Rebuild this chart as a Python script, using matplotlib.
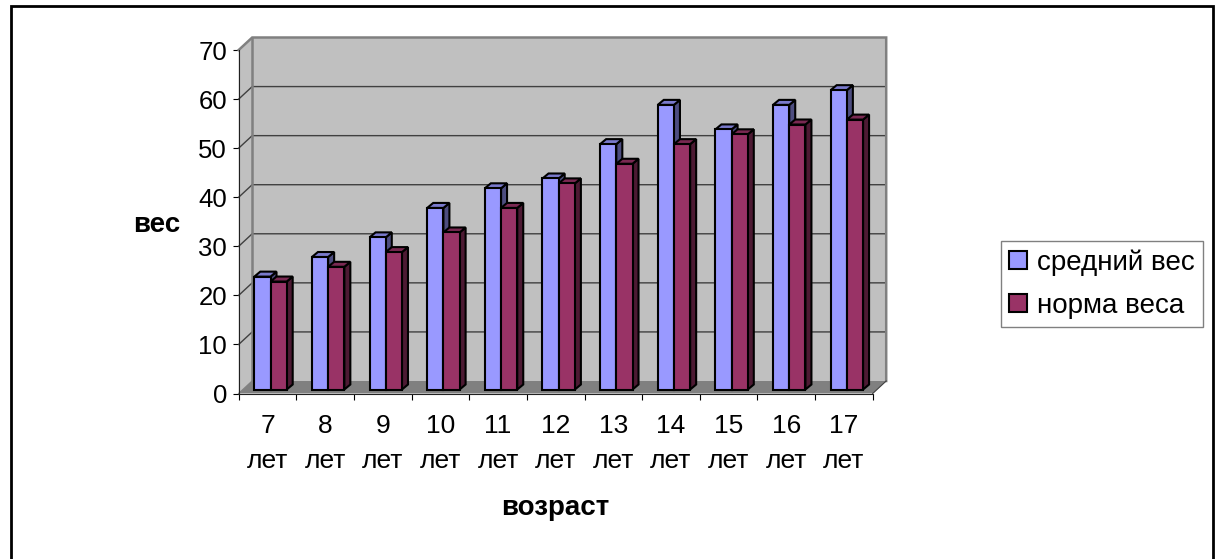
import matplotlib
matplotlib.use("Agg")
import matplotlib.pyplot as plt
from matplotlib.lines import Line2D
from matplotlib.patches import Polygon, Patch

plt.rcParams['font.family'] = ['Liberation Sans', 'DejaVu Sans']

ages = ['7', '8', '9', '10', '11', '12', '13', '14', '15', '16', '17']
avg_weight = [23, 27, 31, 37, 41, 43, 50, 58, 53, 58, 61]
norm_weight = [22, 25, 28, 32, 37, 42, 46, 50, 52, 54, 55]
y_ticks = [0, 10, 20, 30, 40, 50, 60, 70]

W, H = 1220, 559
# plot box in pixels
left, right, y0, y70 = 238.7, 872.7, 393.5, 50.0
cat_px = (right - left) / len(ages)
val_px = (y0 - y70) / 70

# depth of the walls and bars, in data units
wall_dx = 13.5 / cat_px
wall_dy = 12.5 / val_px
bar_dx = 6.0 / cat_px
bar_dy = 5.0 / val_px
bar_w = 16.2 / cat_px
bar_start = 15.6 / cat_px
bar_base = 4.0 / val_px

fig = plt.figure(figsize=(W / 100, H / 100), dpi=100, facecolor='white')
ax = fig.add_axes([left / W, 1 - y0 / H, (right - left) / W, (y0 - y70) / H])
ax.set_xlim(0, len(ages))
ax.set_ylim(0, 70)
ax.set_facecolor('none')


def poly(pts, color, z, edge='none', lw=0):
    ax.add_patch(Polygon(pts, closed=True, facecolor=color, edgecolor=edge,
                         linewidth=lw, zorder=z, clip_on=False, joinstyle='miter'))


n = len(ages)
# floor, side wall, back wall
poly([(0, 0), (n, 0), (n + wall_dx, wall_dy), (wall_dx, wall_dy)], '#808080', 1)
poly([(0, 0), (wall_dx, wall_dy), (wall_dx, 70 + wall_dy), (0, 70)], '#C0C0C0', 1)
poly([(wall_dx, wall_dy), (n + wall_dx, wall_dy), (n + wall_dx, 70 + wall_dy), (wall_dx, 70 + wall_dy)], '#C0C0C0', 1)

for v in y_ticks[1:-1]:
    ax.plot([0, wall_dx, n + wall_dx], [v, v + wall_dy, v + wall_dy], color='#404040',
            lw=1.0, zorder=2, clip_on=False, solid_joinstyle='miter')

# wall outlines
ax.plot([0, wall_dx, n + wall_dx, n + wall_dx], [70, 70 + wall_dy, 70 + wall_dy, wall_dy],
        color='#808080', lw=1.8, zorder=2, clip_on=False, solid_joinstyle='miter')
ax.plot([wall_dx, wall_dx], [wall_dy, 70 + wall_dy], color='#808080', lw=1.8, zorder=2, clip_on=False)
ax.plot([0, wall_dx], [0, wall_dy], color='#808080', lw=1.0, zorder=2, clip_on=False)
ax.plot([n, n + wall_dx], [0, wall_dy], color='#404040', lw=0.8, zorder=2, clip_on=False)


def bar3d(x, v, front, top, side):
    # the column stands in the middle of the floor depth
    x1 = x + bar_w
    b = bar_base
    t = v + bar_base
    poly([(x1, b), (x1 + bar_dx, b + bar_dy), (x1 + bar_dx, t + bar_dy), (x1, t)], side, 3, 'black', 1.5)
    poly([(x, t), (x1, t), (x1 + bar_dx, t + bar_dy), (x + bar_dx, t + bar_dy)], top, 3, 'black', 1.5)
    poly([(x, b), (x1, b), (x1, t), (x, t)], front, 4, 'black', 1.5)


blue = ('#9999FF', '#7A7ACC', '#4D4D80')
maroon = ('#993366', '#7A2952', '#4D1A33')
for i in range(n):
    bar3d(i + bar_start, avg_weight[i], *blue)
    bar3d(i + bar_start + bar_w, norm_weight[i], *maroon)

for s in ['top', 'right']:
    ax.spines[s].set_visible(False)
for s in ['left', 'bottom']:
    ax.spines[s].set_linewidth(0.8)
    ax.spines[s].set_color('#202020')
    ax.spines[s].set_zorder(6)

ax.set_yticks(y_ticks)
ax.tick_params(axis='y', length=4.5, width=0.8, pad=4, labelsize=18.5)
# ticks sit on category boundaries, labels in the middle of each category
ax.set_xticks(range(n + 1))
ax.set_xticklabels([])
ax.tick_params(axis='x', which='major', length=4.5, width=0.8)
ax.set_xticks([i + 0.5 for i in range(n)], [a + '\nлет' for a in ages], minor=True)
ax.tick_params(axis='x', which='minor', length=0, pad=15, labelsize=19)
for t in ax.get_xticklabels(minor=True):
    t.set_linespacing(1.55)

fig.text(157 / W, 1 - 225 / H, 'вес', fontsize=20, fontweight='bold', ha='center', va='center')
fig.text(555 / W, 1 - 508 / H, 'возраст', fontsize=20, fontweight='bold', ha='center', va='center')

handles = [Patch(facecolor=blue[0], edgecolor='black', linewidth=1.5),
           Patch(facecolor=maroon[0], edgecolor='black', linewidth=1.5)]
fig.legend(handles, ['средний вес', 'норма веса'], loc='center',
           bbox_to_anchor=(1102 / W, 1 - 284 / H), fontsize=20, frameon=True, fancybox=False,
           edgecolor='#808080', framealpha=1, handlelength=0.64, handleheight=0.64,
           handletextpad=0.35, labelspacing=0.62, borderpad=0.3, borderaxespad=0)

# outer frame of the chart area, running past the lower edge
fig.add_artist(Line2D([10.5 / W, 10.5 / W, 1212.5 / W, 1212.5 / W], [0, 1 - 6 / H, 1 - 6 / H, 0],
                      transform=fig.transFigure, color='black', lw=2.0, solid_joinstyle='miter'))

fig.savefig('out.png', dpi=100)
